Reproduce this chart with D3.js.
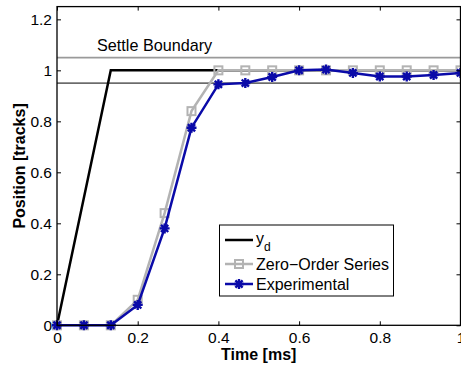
<!DOCTYPE html>
<html><head><meta charset="utf-8">
<script src="https://cdn.jsdelivr.net/npm/d3@7"></script>
<style>body{margin:0;background:#fff;}svg{display:block;font-family:"Liberation Sans",Arial,sans-serif;}</style>
</head><body>
<svg id="c" width="461" height="368"></svg>
<script>
const time = [0,0.0667,0.1333,0.2,0.2667,0.3333,0.4,0.4667,0.5333,0.6,0.6667,0.7333,0.8,0.8667,0.9333,1.0];
const ydTime = [0,0.1333,1.0];
const ydValues = [0,1,1];
const zeroOrder = [0,0,0,0.10,0.44,0.84,1,1,1,1,1,1,1,1,1,1];
const experimental = [0,0,0,0.08,0.38,0.775,0.945,0.95,0.974,1.0,1.003,0.99,0.976,0.976,0.982,0.99];
const xTicks = [0,0.2,0.4,0.6,0.8,1];
const yTicks = [0,0.2,0.4,0.6,0.8,1,1.2];
const settleUpper = 1.05, settleLower = 0.95;
const legendLabels = ["y","Zero\u2212Order Series","Experimental"];

const svg = d3.select("#c");
const x = d3.scaleLinear().domain([0,1]).range([57,460.5]);
const y = d3.scaleLinear().domain([0,1.25]).range([325.3,6.6]);
const gray = "#b3b3b3", blue = "#0a0aa8";

// settle boundary lines
svg.append("line").attr("x1",x(0)).attr("x2",x(1)).attr("y1",y(settleUpper)).attr("y2",y(settleUpper))
  .attr("stroke","#9a9a9a").attr("stroke-width",1.6);
svg.append("line").attr("x1",x(0)).attr("x2",x(1)).attr("y1",y(settleLower)).attr("y2",y(settleLower))
  .attr("stroke","#000").attr("stroke-width",1);
svg.append("text").attr("x",97).attr("y",51).attr("font-size",16.2).text("Settle Boundary");

const line = d3.line().x(d=>x(d[0])).y(d=>y(d[1]));
// yd
svg.append("path").datum(ydTime.map((t,i)=>[t,ydValues[i]])).attr("d",line)
  .attr("fill","none").attr("stroke","#000").attr("stroke-width",2.5);
// zero order
const zo = time.map((t,i)=>[t,zeroOrder[i]]);
svg.append("path").datum(zo).attr("d",line).attr("fill","none").attr("stroke",gray).attr("stroke-width",2.5);
svg.selectAll(".sq").data(zo).enter().append("rect")
  .attr("x",d=>x(d[0])-4).attr("y",d=>y(d[1])-4).attr("width",8).attr("height",8)
  .attr("fill","none").attr("stroke",gray).attr("stroke-width",2);
// experimental
const ex = time.map((t,i)=>[t,experimental[i]]);
svg.append("path").datum(ex).attr("d",line).attr("fill","none").attr("stroke",blue).attr("stroke-width",2.5);
function star(g,cx,cy,r){
  const p = `M${cx-r},${cy}L${cx+r},${cy}M${cx},${cy-r}L${cx},${cy+r}`+
    `M${cx-r*0.72},${cy-r*0.72}L${cx+r*0.72},${cy+r*0.72}M${cx-r*0.72},${cy+r*0.72}L${cx+r*0.72},${cy-r*0.72}`;
  g.append("path").attr("d",p).attr("stroke",blue).attr("stroke-width",2.4).attr("fill","none");
}
ex.forEach(d=>star(svg,x(d[0]),y(d[1]),5));

// axes box
svg.append("rect").attr("x",x(0)).attr("y",y(1.25)).attr("width",x(1)-x(0)).attr("height",y(0)-y(1.25))
  .attr("fill","none").attr("stroke","#000").attr("stroke-width",1.3);
const ax = d3.axisBottom(x).tickValues(xTicks).tickFormat(d3.format("~g")).tickSizeInner(-4).tickSizeOuter(0);
const gx = svg.append("g").attr("transform",`translate(0,${y(0)})`).call(ax);
gx.select(".domain").remove();
gx.selectAll("text").attr("font-size",15.5).attr("font-family","Liberation Sans, Arial").attr("fill","#000").attr("dy","0.75em").attr("y",6);
const axT = d3.axisTop(x).tickValues(xTicks).tickFormat("").tickSizeInner(-4).tickSizeOuter(0);
svg.append("g").attr("transform",`translate(0,${y(1.25)})`).call(axT).select(".domain").remove();
const ay = d3.axisLeft(y).tickValues(yTicks).tickFormat(d3.format("~g")).tickSizeInner(-4).tickSizeOuter(0);
const gy = svg.append("g").attr("transform",`translate(${x(0)},0)`).call(ay);
gy.select(".domain").remove();
gy.selectAll("text").attr("font-size",15.5).attr("font-family","Liberation Sans, Arial").attr("fill","#000").attr("x",-5);
const ayR = d3.axisRight(y).tickValues(yTicks).tickFormat("").tickSizeInner(-4).tickSizeOuter(0);
svg.append("g").attr("transform",`translate(${x(1)},0)`).call(ayR).select(".domain").remove();
svg.selectAll(".tick line").attr("stroke","#000");

// axis labels
svg.append("text").attr("x",(x(0)+x(1))/2).attr("y",360).attr("text-anchor","middle")
  .attr("font-size",16).attr("font-weight","bold").text("Time [ms]");
svg.append("text").attr("transform",`translate(25,${(y(0)+y(1.25))/2}) rotate(-90)`).attr("text-anchor","middle")
  .attr("font-size",16).attr("font-weight","bold").text("Position [tracks]");

// legend
const lg = svg.append("g");
lg.append("rect").attr("x",219.5).attr("y",225).attr("width",174).attr("height",71)
  .attr("fill","#fff").attr("stroke","#000").attr("stroke-width",1);
const ly = [240,264,284];
// yd
lg.append("line").attr("x1",225).attr("x2",253).attr("y1",ly[0]).attr("y2",ly[0]).attr("stroke","#000").attr("stroke-width",2.5);
const t0 = lg.append("text").attr("x",256).attr("y",ly[0]+4).attr("font-size",16).text(legendLabels[0]);
t0.append("tspan").attr("font-size",12).attr("dy",7).text("d");
lg.append("line").attr("x1",225).attr("x2",253).attr("y1",ly[1]).attr("y2",ly[1]).attr("stroke",gray).attr("stroke-width",2.5);
lg.append("rect").attr("x",235).attr("y",ly[1]-4).attr("width",8).attr("height",8).attr("fill","none").attr("stroke",gray).attr("stroke-width",2);
lg.append("text").attr("x",256).attr("y",ly[1]+6).attr("font-size",16).text(legendLabels[1]);
lg.append("line").attr("x1",225).attr("x2",253).attr("y1",ly[2]).attr("y2",ly[2]).attr("stroke",blue).attr("stroke-width",2.5);
star(lg,239,ly[2],5);
lg.append("text").attr("x",256).attr("y",ly[2]+6).attr("font-size",16).text(legendLabels[2]);
</script>
</body></html>
